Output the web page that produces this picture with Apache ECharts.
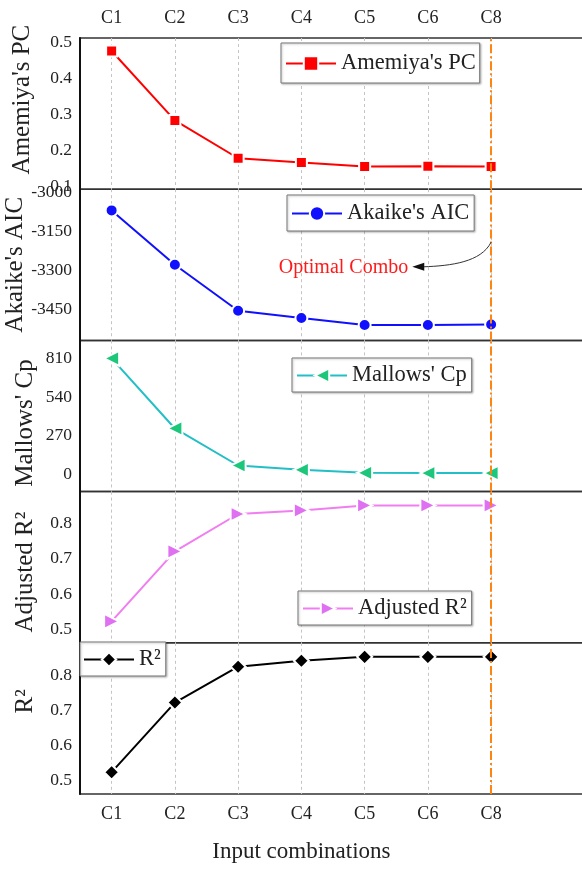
<!DOCTYPE html>
<html>
<head>
<meta charset="utf-8">
<script src="https://cdn.jsdelivr.net/npm/echarts@6/dist/echarts.min.js"></script>
<style>
    html, body { margin: 0; padding: 0; background: #fff; }
    #main { width: 582px; height: 869px; }
</style>
</head>
<body>
<div id="main"></div>
<script>
// 数据
var categories = ['C1', 'C2', 'C3', 'C4', 'C5', 'C6', 'C8'];
var amemiyaPC = [0.477, 0.284, 0.179, 0.167, 0.156, 0.157, 0.156];
var akaikeAIC = [-3068, -3277, -3454, -3482, -3509, -3509, -3507];
var mallowsCp = [812, 322, 63, 33, 12, 10, 10];
var adjustedR2 = [0.523, 0.720, 0.825, 0.835, 0.849, 0.849, 0.849];
var r2 = [0.524, 0.722, 0.824, 0.841, 0.852, 0.852, 0.852];
var pcTicks = [0.1, 0.2, 0.3, 0.4, 0.5];
var aicTicks = [-3450, -3300, -3150, -3000];
var cpTicks = [0, 270, 540, 810];
var r2Ticks = [0.5, 0.6, 0.7, 0.8];
var optimalIndex = 6;

var FONT = "'Liberation Serif', 'Times New Roman', serif";
var panelTop = 38, panelH = 151.2;
var catIdx = categories.map(function (c, i) { return i; });

function pairs(arr) {
    return arr.map(function (v, i) { return [i, v]; });
}

var panels = [
    {name: "Amemiya's PC", data: amemiyaPC, ticks: pcTicks, min: 0.093, max: 0.513,
        color: '#ff0000', mcolor: '#ff0000', symbol: 'rect', size: 11, rot: 0,
        legend: {left: 281, top: 43, pad: [9, 4, 8, 4]}, nameGap: 45, namePad: [0, 0, 0, 28]},
    {name: "Akaike's AIC", data: akaikeAIC, ticks: aicTicks, min: -3568, max: -2986.5,
        color: '#1010ff', mcolor: '#1010ff', symbol: 'circle', size: 12, rot: 0,
        legend: {left: 287, top: 195, pad: [7, 5, 6, 4]}, nameGap: 52, namePad: [0, 0, 0, 0]},
    {name: "Mallows' Cp", data: mallowsCp, ticks: cpTicks, min: -119.6, max: 938,
        color: '#22bfc6', mcolor: '#1cc77c', symbol: 'triangle', size: 15, rot: 90,
        legend: {left: 292, top: 358, pad: [6, 5, 5, 4]}, nameGap: 42, namePad: [0, 14, 0, 0]},
    {name: 'Adjusted R\u00b2', data: adjustedR2, ticks: r2Ticks, min: 0.463, max: 0.888,
        color: '#f07ef0', mcolor: '#e070f2', symbol: 'triangle', size: 15, rot: -90,
        legend: {left: 298, top: 591, pad: [6, 5, 5, 4]}, nameGap: 42, namePad: [0, 10, 0, 0]},
    {name: 'R\u00b2', data: r2, ticks: r2Ticks, min: 0.462, max: 0.892,
        color: '#000000', mcolor: '#000000', symbol: 'diamond', size: 15, rot: 0,
        legend: {left: 80, top: 642, pad: [6, 5, 5, 3]}, nameGap: 42, namePad: [0, 0, 0, 34]}
];

var grids = [], xAxes = [], yAxes = [], series = [], legends = [];
panels.forEach(function (p, i) {
    grids.push({
        left: 80, right: -4, top: panelTop + i * panelH, height: panelH,
        outerBoundsMode: 'none', containLabel: false,
        show: true, borderColor: '#333', borderWidth: 1.5, backgroundColor: 'transparent'
    });
    var first = i === 0, last = i === panels.length - 1;
    xAxes.push({
        type: 'value', gridIndex: i, min: -0.5, max: 7.5,
        position: first ? 'top' : 'bottom',
        axisLine: {show: false},
        axisTick: {show: false, customValues: catIdx},
        axisLabel: {
            show: first || last, customValues: catIdx, margin: 11,
            fontFamily: FONT, fontSize: 18, color: '#222',
            formatter: function (v) { return categories[Math.round(v)] || ''; }
        },
        splitLine: {show: true, lineStyle: {color: '#c4c4c4', type: [3, 3], width: 1}}
    });
    yAxes.push({
        type: 'value', gridIndex: i, min: p.min, max: p.max,
        name: p.name, nameLocation: 'middle', nameGap: p.nameGap, nameMoveOverlap: false,
        nameTextStyle: {fontFamily: FONT, fontSize: 25, color: '#222', padding: p.namePad},
        axisLine: {show: true, onZero: false, lineStyle: {color: '#111', width: 2}},
        axisTick: {show: false},
        axisLabel: {
            customValues: p.ticks, fontFamily: FONT, fontSize: 17.5, color: '#222', margin: 8,
            formatter: function (v) { return String(v); }
        },
        splitLine: {show: false}
    });
    series.push({
        name: p.name, type: 'line', xAxisIndex: i, yAxisIndex: i,
        data: pairs(p.data),
        symbol: p.symbol, symbolSize: p.size, symbolRotate: p.rot,
        lineStyle: {color: p.color, width: 2},
        itemStyle: {color: p.mcolor, borderColor: '#fff', borderWidth: 2},
        z: 3,
        markLine: {
            silent: true, symbol: 'none', label: {show: false}, z: 5,
            lineStyle: {color: '#ff8410', width: 2, type: [9, 3, 2, 3]},
            data: [{xAxis: optimalIndex}]
        }
    });
    legends.push({
        data: [p.name], left: p.legend.left, top: p.legend.top,
        orient: 'horizontal', itemWidth: 50, itemHeight: 18,
        padding: p.legend.pad,
        backgroundColor: '#fff', borderColor: '#777', borderWidth: 1,
        shadowColor: 'rgba(0,0,0,0.25)', shadowBlur: 2, shadowOffsetX: 1, shadowOffsetY: 1,
        textStyle: {fontFamily: FONT, fontSize: 22.5, color: '#222'},
        selectedMode: false
    });
});

var chart = echarts.init(document.getElementById('main'));
chart.setOption({
    animation: false,
    backgroundColor: '#fff',
    grid: grids,
    xAxis: xAxes,
    yAxis: yAxes,
    legend: legends,
    series: series
});

// 注释：Optimal Combo 箭头
var a = chart.convertToPixel({xAxisIndex: 1, yAxisIndex: 1}, [optimalIndex, -3190]);
var b = chart.convertToPixel({xAxisIndex: 1, yAxisIndex: 1}, [optimalIndex - 1.2, -3285]);
chart.setOption({
    graphic: [
        {
            type: 'bezierCurve', silent: true, z: 10,
            shape: {x1: a[0], y1: a[1], cpx1: a[0] - 10, cpy1: a[1] + 20, cpx2: a[0] - 40, cpy2: b[1] - 1, x2: b[0] + 8, y2: b[1]},
            style: {stroke: '#333', lineWidth: 1, fill: null}
        },
        {
            type: 'polygon', silent: true, z: 10,
            shape: {points: [[b[0] - 3, b[1]], [b[0] + 9, b[1] - 4], [b[0] + 9, b[1] + 4]]},
            style: {fill: '#111'}
        },
        {
            type: 'text', silent: true, z: 10, x: b[0] - 7, y: b[1] + 1,
            style: {text: 'Optimal Combo', fill: '#ff1a1a', font: '20px ' + FONT, align: 'right', verticalAlign: 'middle'}
        },
        {
            type: 'text', silent: true, z: 10, x: (chart.convertToPixel({xAxisIndex: 4}, 0) + chart.convertToPixel({xAxisIndex: 4}, 6)) / 2, y: 852,
            style: {text: 'Input combinations', fill: '#222', font: '23px ' + FONT, align: 'center', verticalAlign: 'middle'}
        }
    ]
});
</script>
</body>
</html>
